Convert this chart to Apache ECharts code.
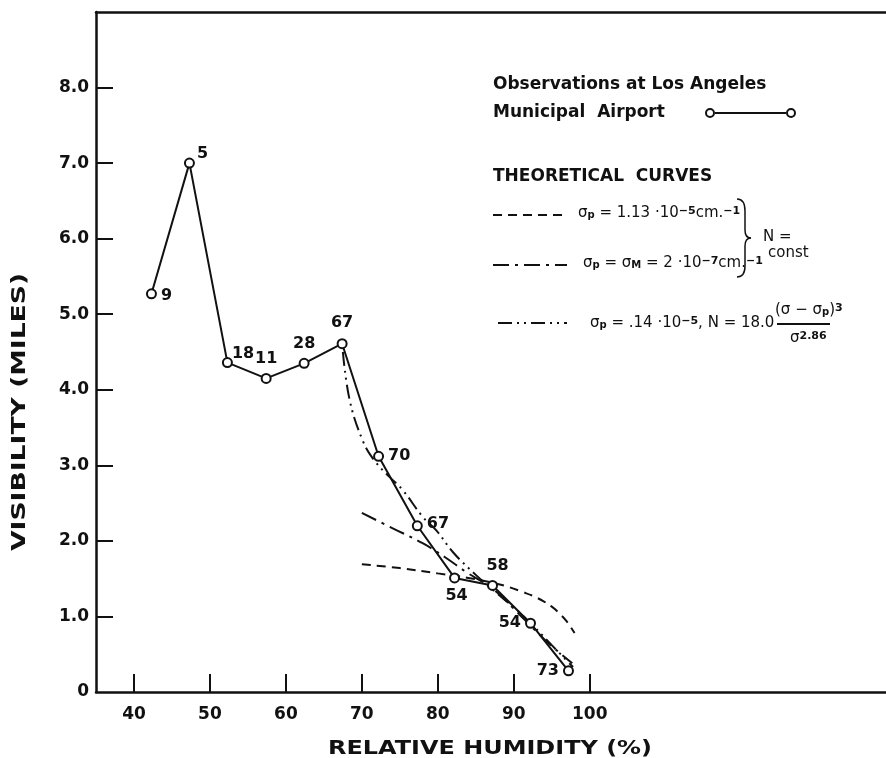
<!DOCTYPE html>
<html>
<head>
<meta charset="utf-8">
<script src="https://cdn.jsdelivr.net/npm/echarts@6/dist/echarts.min.js"></script>
<style>
html, body { margin: 0; background: #fff; }
#chart { width: 886px; height: 758px; }
</style>
</head>
<body>
<div id="chart"></div>
<script>
// observations at Los Angeles Municipal Airport
const humidity = [42.3, 47.3, 52.3, 57.4, 62.4, 67.4, 72.2, 77.3, 82.2, 87.2, 92.2, 97.2];
const visibility = [5.27, 7.0, 4.36, 4.15, 4.35, 4.61, 3.12, 2.2, 1.51, 1.41, 0.91, 0.28];
const counts = ['9', '5', '18', '11', '28', '67', '70', '67', '54', '58', '54', '73'];

// theoretical curves
const sigma113X = [70, 75, 80, 84, 87, 89, 91, 93, 95, 96, 97, 98];
const sigma113Y = [1.69, 1.64, 1.57, 1.51, 1.45, 1.4, 1.33, 1.25, 1.13, 1.04, 0.93, 0.78];
const sigmaMX = [70, 74, 78, 81, 84, 86, 88, 90, 92, 94, 96, 97.7];
const sigmaMY = [2.37, 2.17, 1.97, 1.78, 1.57, 1.45, 1.3, 1.1, 0.9, 0.7, 0.52, 0.38];
const nFormX = [67.5, 68.4, 70.1, 71.6, 73.6, 75.4, 78, 79.8, 82, 85, 87.5, 90, 92.5, 95, 97.8];
const nFormY = [4.5, 3.86, 3.33, 3.07, 2.85, 2.67, 2.32, 2.14, 1.85, 1.55, 1.33, 1.12, 0.88, 0.62, 0.33];

const xTicks = [40, 50, 60, 70, 80, 90, 100];
const yTicks = [0, 1, 2, 3, 4, 5, 6, 7, 8];

// where each count sits next to its circle
const labelPlace = [
	['right', [-1, 2]], ['right', [-3, -9]], ['right', [-6, -9]], ['top', [0, -1]],
	['top', [0, -1]], ['top', [0, -2]], ['right', [-1, 0]], ['right', [-1, -2]],
	['bottom', [2, -1]], ['top', [5, -1]], ['left', [1, 0]], ['left', [1, 0]]
];

const FONT = 'DejaVu Sans';
const zip = (xs, ys) => xs.map((x, i) => [x, ys[i]]);

const chart = echarts.init(document.getElementById('chart'));

const base = { fontFamily: FONT, fontSize: 17, fontWeight: 'bold', fill: '#111' };
const formula = { fontFamily: FONT, fontSize: 15, fontWeight: 'normal', fill: '#111' };
const rich = {
	sub: { fontFamily: FONT, fontSize: 10, fontWeight: 'bold', verticalAlign: 'bottom', fill: '#111' },
	sup: { fontFamily: FONT, fontSize: 11, fontWeight: 'bold', verticalAlign: 'top', fill: '#111' }
};

function label(text, x, y, look)
{
	return {
		type: 'text', x: x, y: y,
		style: Object.assign({ text: text, verticalAlign: 'middle', rich: rich }, look || base)
	};
}

function sample(x1, x2, y, dash)
{
	return { type: 'line', shape: { x1: x1, y1: y, x2: x2, y2: y }, style: { stroke: '#111', lineWidth: 2, lineDash: dash } };
}

function curve(x1, y1, cx, cy, x2, y2)
{
	return { type: 'bezierCurve', shape: { x1: x1, y1: y1, cpx1: cx, cpy1: cy, x2: x2, y2: y2 }, style: { fill: null, stroke: '#111', lineWidth: 1.5 } };
}

const yName = label('VISIBILITY (MILES)', 20, 412, Object.assign({}, base, { fontSize: 19, align: 'center' }));
yName.rotation = Math.PI / 2;
yName.scaleX = 1.4;
const xName = label('RELATIVE HUMIDITY (%)', 490, 749, Object.assign({}, base, { fontSize: 19, align: 'center' }));
xName.scaleX = 1.26;

const graphic = [
	yName,
	xName,
	label('Observations at Los Angeles', 493, 85),
	label('Municipal  Airport', 493, 113),
	{ type: 'circle', shape: { cx: 710, cy: 113, r: 4 }, style: { fill: '#fff', stroke: '#111', lineWidth: 2 } },
	sample(715, 786, 113, null),
	{ type: 'circle', shape: { cx: 791, cy: 113, r: 4 }, style: { fill: '#fff', stroke: '#111', lineWidth: 2 } },
	label('THEORETICAL  CURVES', 493, 177),
	sample(493, 567, 215, [9, 6]),
	label('σ{sub|p} = 1.13 ·10{sup|−5}cm.{sup|−1}', 578, 213, formula),
	sample(493, 567, 265, [16, 6, 3, 6]),
	label('σ{sub|p} = σ{sub|M} = 2 ·10{sup|−7}cm.{sup|−1}', 583, 263, formula),
	// brace joining the two constant-N curves
	curve(737, 199, 745, 199, 745, 211),
	{ type: 'line', shape: { x1: 745, y1: 211, x2: 745, y2: 230 }, style: { stroke: '#111', lineWidth: 1.5 } },
	curve(745, 230, 745, 238, 751, 238),
	curve(751, 238, 745, 238, 745, 246),
	{ type: 'line', shape: { x1: 745, y1: 246, x2: 745, y2: 266 }, style: { stroke: '#111', lineWidth: 1.5 } },
	curve(745, 266, 745, 277, 737, 277),
	label('N =', 763, 237, formula),
	label('const', 768, 253, formula),
	sample(498, 567, 323, [14, 5, 2, 5, 2, 5]),
	label('σ{sub|p} = .14 ·10{sup|−5}, N = 18.0', 590, 323, formula),
	label('(σ − σ{sub|p}){sup|3}', 775, 310, formula),
	{ type: 'line', shape: { x1: 777, y1: 324, x2: 830, y2: 324 }, style: { stroke: '#111', lineWidth: 2 } },
	label('σ{sup|2.86}', 790, 338, formula)
];

const option = {
	animation: false,
	backgroundColor: '#fff',
	grid: { left: 96, right: 0, top: 12, bottom: 66 },
	xAxis: [
		{
			type: 'value', min: 35, max: 139,
			axisLine: { show: true, onZero: false, lineStyle: { color: '#111', width: 2.5 } },
			axisTick: { show: true, inside: true, length: 18, customValues: xTicks, lineStyle: { color: '#111', width: 2 } },
			axisLabel: { customValues: xTicks, margin: 14, color: '#111', fontFamily: FONT, fontSize: 17, fontWeight: 'bold' },
			splitLine: { show: false }
		},
		{
			type: 'value', min: 35, max: 139, position: 'top',
			axisLine: { show: true, onZero: false, lineStyle: { color: '#111', width: 2.5 } },
			axisTick: { show: false }, axisLabel: { show: false }, splitLine: { show: false }
		}
	],
	yAxis: {
		type: 'value', min: 0, max: 9,
		axisLine: { show: true, onZero: false, lineStyle: { color: '#111', width: 2.5 } },
		axisTick: { show: true, inside: true, length: 17, customValues: yTicks.slice(1), lineStyle: { color: '#111', width: 2 } },
		axisLabel: {
			customValues: yTicks, margin: 7, color: '#111', fontFamily: FONT, fontSize: 17, fontWeight: 'bold',
			formatter: (v) => v === 0 ? '0' : v.toFixed(1)
		},
		splitLine: { show: false }
	},
	graphic: graphic,
	series: [
		{
			type: 'line', data: zip(sigma113X, sigma113Y), smooth: 0.4, showSymbol: false, z: 2,
			lineStyle: { color: '#111', width: 2, type: [9, 6] }
		},
		{
			type: 'line', data: zip(sigmaMX, sigmaMY), smooth: 0.4, showSymbol: false, z: 2,
			lineStyle: { color: '#111', width: 2, type: [16, 6, 3, 6] }
		},
		{
			type: 'line', data: zip(nFormX, nFormY), smooth: 0.4, showSymbol: false, z: 2,
			lineStyle: { color: '#111', width: 2, type: [14, 5, 2, 5, 2, 5] }
		},
		{
			type: 'line', z: 3,
			data: humidity.map((h, i) => ({
				value: [h, visibility[i]],
				label: { position: labelPlace[i][0], offset: labelPlace[i][1] }
			})),
			symbol: 'emptyCircle', symbolSize: 9,
			itemStyle: { color: '#111', borderWidth: 2 },
			lineStyle: { color: '#111', width: 2 },
			label: {
				show: true, distance: 5, color: '#111', fontFamily: FONT, fontSize: 16, fontWeight: 'bold',
				formatter: (p) => counts[p.dataIndex]
			}
		}
	]
};

chart.setOption(option);
</script>
</body>
</html>
